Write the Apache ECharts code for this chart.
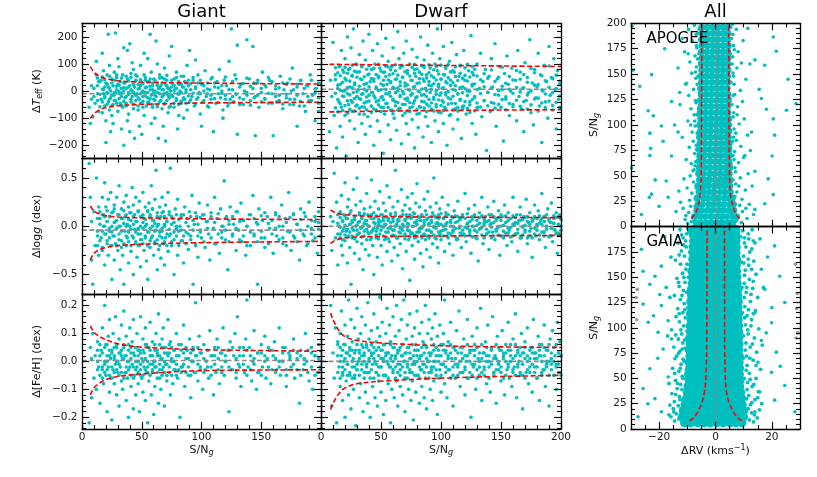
<!DOCTYPE html>
<html><head><meta charset="utf-8">
<script src="https://cdn.jsdelivr.net/npm/echarts@6/dist/echarts.min.js"></script>
<style>html,body{margin:0;padding:0;background:#fff}#c{width:817px;height:477px}</style>
</head><body><div id="c"></div>
<script>
// ---------------- DATA ----------------
const giantTeff = [[6,-60],[8,-30],[8,20],[9,-95],[10,10],[11,-45],[12,60],[13,-10],[14,-75],[14,35],[7,-120],[12,110],[10,-20],
[16,40],[16,-30],[17,-80],[18,5],[18,75],[19,-20],[19,-55],[20,30],[20,-110],[21,-5],[21,60],[22,-40],[22,15],[23,95],[23,-70],[24,0],[24,-25],[25,45],[17,140],[22,210],[20,-190],[24,-150],[18,-10],[25,-90],
[26,20],[26,-50],[27,-15],[27,70],[28,215],[28,-35],[29,5],[29,50],[30,-75],[30,25],[31,-10],[31,90],[32,-45],[32,35],[33,-20],[33,10],[34,60],[34,-60],[35,160],[35,-200],[26,-120],[30,120],[33,-140],[28,-5],[35,0],
[36,30],[36,-25],[37,-55],[37,10],[38,150],[38,45],[39,-5],[39,-85],[40,175],[40,20],[41,-40],[41,65],[42,0],[42,-20],[43,80],[43,-65],[44,15],[44,-175],[45,-35],[45,40],[38,-110],[42,105],[40,-150],[44,-10],
[46,-10],[46,55],[47,25],[47,-70],[48,-30],[48,10],[49,95],[49,-45],[50,-160],[50,30],[51,0],[51,-20],[52,60],[52,-90],[53,-5],[53,40],[54,-55],[54,15],[55,120],[55,-25],[48,-130],[52,140],[50,-5],
[56,35],[56,-40],[57,210],[57,5],[58,-15],[58,70],[59,-60],[59,20],[60,-30],[60,45],[61,-100],[61,0],[62,185],[62,-20],[63,30],[63,-50],[64,10],[64,-175],[65,60],[65,-10],[58,-120],[63,100],[60,-5],
[66,20],[66,-35],[67,-65],[67,50],[68,5],[68,-15],[69,85],[69,-45],[70,-185],[70,25],[71,-5],[71,40],[72,-80],[72,10],[73,-25],[73,130],[74,0],[74,-55],[75,165],[75,30],[68,-130],[72,-15],
[76,-20],[77,45],[77,-60],[78,10],[79,-35],[79,70],[80,-10],[81,25],[81,-90],[82,0],[83,-45],[83,55],[84,15],[85,-100],[85,-25],[86,35],[87,-5],[88,-70],[88,95],[89,20],[90,150],[90,-40],[80,-140],[86,-30],
[91,5],[92,-20],[93,40],[94,-55],[95,10],[95,115],[96,-30],[97,60],[98,-10],[99,-85],[100,-130],[100,25],[101,-40],[102,0],[103,75],[104,-20],[105,30],[106,-60],[107,5],[108,-30],[109,50],[110,-150],[98,-5],[105,-10],
[111,15],[112,-45],[113,35],[114,-10],[115,80],[116,-25],[117,0],[118,-70],[119,40],[120,-15],[121,20],[122,-55],[123,110],[124,-30],[125,230],[126,5],[127,-40],[128,60],[129,-10],[130,-160],[130,170],[118,-100],
[132,-25],[133,25],[135,-50],[136,0],[138,190],[138,-15],[140,45],[141,-35],[143,165],[143,10],[145,-165],[145,-20],[147,30],[148,-60],[150,-5],[151,70],[153,-30],[154,15],[156,-45],[157,40],[159,-10],[160,-165],
[162,20],[163,-40],[165,-15],[166,55],[168,-65],[169,5],[171,-25],[172,30],[174,-50],[175,0],[176,85],[178,-30],[180,-130],[180,15],[182,-55],[183,40],[185,-10],[187,-75],[188,20],[190,-35],[191,60],[193,-15],[195,-110],[196,10],[198,-45],[199,25],[198,-75]];
// dense core, as columns [S/N, [values...]]
const giantTeffCore = [[13,[-35,20,48]],[15,[-12,35,-58]],[17,[8,-40,52]],[19,[-25,42,15]],[21,[-50,25,-8]],[23,[10,-30,55]],[25,[-15,30,-55]],[27,[40,-5,-35]],[29,[-45,18,60]],[31,[22,-28,-2]],[33,[-8,48,-52]],[35,[30,-38,12]],[37,[-20,55,-45]],[39,[15,-12,38]],[41,[-30,5,50]],[43,[25,-48,-5]],[45,[-15,38,60]],[47,[8,-25,-55]],[49,[42,-10,20]],[51,[-38,28,-60]],[53,[12,-18,50]],[55,[-5,35,-42]],[57,[-28,18,45]],[59,[5,-50,30]],[61,[-15,40,-35]],[63,[22,-5,-58]],[65,[-40,12,48]],[67,[30,-22,5]],[69,[-10,45,-48]],[71,[18,-35,58]],[73,[-25,8,-60]],[75,[40,-15,15]],[77,[-45,22,0]],[79,[10,-28,50]],[81,[-12,35,-50]],[83,[25,-5,-38]],[85,[-30,15,55]],[87,[5,-45,30]],[89,[-18,40]],[91,[28,-32]],[93,[-8,50]],[95,[15,-48]],[97,[-25,30]],[99,[40,-10]],[102,[-35,20]],[105,[8,-55]],[108,[-15,45]],[111,[30,-28]],[114,[-42,12]],[117,[20,-8]],[120,[-30,52]],[123,[5,-45]],[126,[-20,35]],[129,[45,-12]],[132,[-50,15]],[135,[28,-30]],[138,[-5,48]],[141,[18,-52]],[144,[-25,30]],[147,[40,-15]],[150,[-40,10]],[153,[22,-28]],[156,[-8,50]],[159,[35,-45]],[162,[-20,8]],[165,[12,-35]],[168,[-48,30]],[171,[25,-12]],[174,[-30,45]],[177,[5,-50]],[180,[-15,25]],[183,[38,-38]],[186,[-55,10]],[189,[20,-20]],[192,[-35,40]],[195,[8,-8]],[198,[-25,30]]];

const giantLogg = [[6,.65],[7,.3],[8,-.35],[8,.05],[9,-.6],[10,.15],[11,-.2],[12,.5],[13,-.05],[14,.2],[14,-.3],[15,.08],
[16,-.12],[17,.3],[17,-.25],[18,0],[18,.12],[19,-.4],[19,.45],[20,-.08],[20,.2],[21,-.15],[21,.05],[22,-.3],[22,.28],[23,.1],[23,-.05],[24,-.2],[24,.35],[25,0],[25,-.55],
[26,.15],[26,-.1],[27,.22],[27,-.35],[28,.05],[28,-.18],[29,.3],[29,-.02],[30,-.25],[30,.12],[31,.42],[31,-.08],[32,0],[32,-.45],[33,.18],[33,-.15],[34,.08],[34,-.3],[35,.25],[35,-.6],
[36,-.05],[36,.1],[37,-.2],[37,.32],[38,.02],[38,-.12],[39,.2],[39,-.38],[40,0],[40,.14],[41,-.26],[41,.06],[42,.4],[42,-.1],[43,-.5],[43,.22],[44,-.03],[44,.12],[45,-.18],[45,.3],
[46,.05],[46,-.32],[47,.16],[47,-.08],[48,.26],[48,-.2],[49,0],[49,-.42],[50,.1],[50,-.14],[51,.35],[51,-.02],[52,-.25],[52,.08],[53,.2],[53,-.1],[54,-.36],[54,.02],[55,.15],[55,-.55],
[56,-.06],[56,.24],[57,.1],[57,-.22],[58,.42],[58,-.12],[59,0],[59,.18],[60,-.3],[60,.06],[61,.28],[61,-.16],[62,-.04],[62,.58],[63,.14],[63,-.45],[64,.02],[64,-.24],[65,.2],[65,-.1],
[66,-.33],[66,.1],[67,.3],[67,-.05],[68,-.18],[68,.15],[69,0],[69,-.4],[70,.22],[70,-.12],[71,.05],[72,-.26],[72,.35],[73,.12],[74,-.08],[74,.6],[75,-.2],[76,.08],[77,-.5],[78,.18],[79,-.02],[80,.28],[80,-.3],
[82,0],[83,.12],[84,-.15],[85,-.38],[86,.2],[87,-.06],[88,.08],[89,-.24],[90,.15],[91,-.1],[92,.32],[93,-.6],[94,.02],[95,-.18],[96,.1],[97,-.32],[98,.24],[99,-.04],[100,-.12],[101,.12],
[103,-.22],[104,.05],[105,.22],[106,-.08],[107,-.35],[108,.14],[110,-.02],[111,.3],[112,-.18],[113,.08],[115,-.28],[116,.18],[117,-.06],[118,0],[119,.47],[120,-.14],[121,.1],[122,-.45],[123,.06],[124,.2],
[126,-.1],[127,.02],[129,-.25],[130,.15],[131,-.04],[133,.24],[134,-.16],[135,.06],[137,-.3],[138,0],[140,.12],[141,-.2],[143,.32],[144,-.08],[146,.04],[147,-.6],[148,.18],[150,-.12],[151,.06],[153,-.22],
[155,.1],[157,-.02],[158,.3],[160,-.28],[162,.14],[163,-.1],[165,0],[167,.22],[168,-.18],[170,.08],[172,-.05],[173,.35],[175,-.25],[177,.12],[178,-.12],[180,.02],[182,-.35],[183,.18],[185,-.08],[187,.1],[188,-.2],[190,.25],[192,-.02],[193,-.15],[195,.05],[197,-.28],[198,.15],[199,-.1]];
const giantLoggCore = [[13,[-.1,.08,-.2]],[15,[.02,-.15,.15]],[17,[-.05,.12,-.22]],[19,[.1,-.08,0]],[21,[-.18,.05,.16]],[23,[-.02,-.12,.1]],[25,[.14,-.06,-.2]],[27,[-.1,.04,.18]],[29,[.06,-.2,-.02]],[31,[-.14,.12,0]],[33,[.08,-.05,-.22]],[35,[-.18,.16,.03]],[37,[0,-.1,.12]],[39,[-.06,.07,-.16]],[41,[.14,-.2,-.03]],[43,[-.12,.02,.1]],[45,[.05,-.16,-.06]],[47,[-.02,.15,-.2]],[49,[.1,-.08,-.14]],[51,[-.18,.04,.12]],[53,[0,-.12,.07]],[55,[-.06,.16,-.2]],[57,[.12,-.02,-.15]],[59,[-.1,.06,.18]],[61,[.03,-.18,-.05]],[63,[-.14,.1,0]],[65,[.08,-.06,-.2]],[67,[-.02,.14,-.12]],[69,[.1,-.16,.02]],[71,[-.08,.05,-.2]],[73,[.15,-.1,-.03]],[75,[-.16,.02,.1]],[77,[.04,-.06,-.14]],[79,[-.1,.12,0]],[81,[.07,-.2,-.05]],[83,[-.04,.1,-.15]],[85,[.12,-.1]],[87,[-.18,.04]],[89,[0,-.08]],[91,[.1,-.14]],[93,[-.04,.06]],[95,[-.2,.14]],[97,[.02,-.1]],[99,[-.06,.09]],[102,[.12,-.16]],[105,[-.02,.05]],[108,[-.12,.1]],[111,[.04,-.18]],[114,[-.08,.13]],[117,[0,-.12]],[120,[.08,-.04]],[123,[-.16,.02]],[126,[.1,-.08]],[129,[-.02,.15]],[132,[-.14,.05]],[135,[.06,-.1]],[138,[-.2,0]],[141,[.12,-.06]],[144,[-.1,.08]],[147,[.02,-.16]],[150,[-.05,.11]],[153,[.14,-.12]],[156,[-.18,.03]],[159,[.06,-.08]],[162,[-.02,.12]],[165,[.1,-.14]],[168,[-.12,0]],[171,[.04,-.2]],[174,[-.06,.09]],[177,[.13,-.1]],[180,[-.16,.02]],[183,[.07,-.04]],[186,[-.1,.14]],[189,[0,-.18]],[192,[-.08,.06]],[195,[.1,-.12]],[198,[-.03,.04]]];

const giantFeh = [[6,-.22],[7,.05],[8,-.13],[8,.01],[9,.1],[10,-.06],[11,.02],[12,-.1],[13,.07],[14,-.02],[15,-.15],
[16,.04],[17,-.03],[17,.12],[18,-.08],[19,0],[19,.2],[20,-.05],[20,.06],[21,-.18],[21,.02],[22,.09],[22,-.02],[23,-.11],[23,.15],[24,.01],[24,-.06],[25,.04],[25,-.21],
[26,.1],[26,-.03],[27,-.08],[27,.02],[28,.16],[28,-.01],[29,-.12],[29,.05],[30,0],[30,-.04],[31,.08],[31,-.16],[32,-.02],[32,.03],[33,.13],[33,-.07],[34,.01],[34,-.1],[35,.06],[35,.18],
[36,-.04],[36,.02],[37,-.14],[37,.09],[38,0],[38,-.06],[39,.04],[39,-.2],[40,.12],[40,-.02],[41,-.09],[41,.03],[42,.07],[42,-.01],[43,-.17],[43,.15],[44,.02],[44,-.05],[45,.05],[45,-.12],
[46,-.02],[46,.1],[47,0],[47,-.08],[48,.04],[48,-.18],[49,.16],[49,-.03],[50,.01],[50,-.06],[51,.08],[51,-.11],[52,-.02],[52,.03],[53,.12],[53,-.14],[54,-.04],[54,.06],[55,0],[55,-.22],
[56,.05],[56,-.07],[57,-.01],[57,.14],[58,-.12],[58,.02],[59,.07],[59,-.04],[60,-.19],[60,0],[61,.04],[61,-.09],[62,.1],[62,-.02],[63,-.06],[63,.02],[64,.17],[64,-.15],[65,-.03],[65,.06],
[66,.01],[66,-.1],[67,.08],[67,-.05],[68,-.02],[68,.12],[69,-.16],[69,.03],[70,.05],[70,-.01],[71,-.07],[72,.02],[72,.15],[73,-.04],[74,.07],[74,-.12],[75,0],[76,-.08],[77,.04],[78,-.03],[79,.1],[80,-.06],
[81,.02],[82,-.2],[83,.06],[84,-.02],[85,.13],[86,-.09],[87,.01],[88,.04],[89,-.05],[90,.08],[91,-.13],[92,0],[93,.05],[94,-.04],[95,.21],[96,.02],[97,-.07],[98,.09],[99,-.02],[100,.03],
[101,-.1],[102,.06],[103,-.03],[104,0],[105,.04],[106,-.06],[107,.11],[108,-.02],[109,.02],[110,-.12],[111,.05],[112,-.04],[113,.08],[114,.01],[115,-.08],[116,.03],[117,-.02],[118,.12],[119,-.05],[120,0],
[122,.04],[123,-.18],[124,.07],[125,-.03],[127,.02],[128,.1],[129,-.06],[130,.16],[131,-.01],[132,.05],[133,-.09],[135,.02],[136,-.04],[137,.08],[138,.22],[139,-.02],[140,.05],[142,-.07],[143,0],[144,.11],
[146,-.1],[147,.03],[148,-.04],[150,.06],[151,-.02],[153,.09],[154,-.06],[155,.01],[157,.04],[158,-.08],[160,.02],[161,.07],[163,-.03],[165,.12],[166,-.05],[168,0],[170,.05],[171,-.09],[173,.03],[175,-.02],
[177,.08],[178,-.06],[180,.01],[182,-.15],[183,.04],[185,-.03],[187,.1],[188,0],[190,-.07],[192,.05],[193,-.1],[195,.02],[197,-.04],[198,.06],[199,-.02]];
const giantFehCore = [[13,[-.03,.04,0]],[15,[.02,-.05,.06]],[17,[-.02,.03,-.06]],[19,[.05,-.01,-.04]],[21,[0,.06,-.03]],[23,[-.05,.02,.04]],[25,[.03,-.02,-.06]],[27,[-.04,.05,.01]],[29,[.06,-.03,0]],[31,[-.01,.03,-.05]],[33,[.04,-.04,.02]],[35,[-.06,.01,.05]],[37,[.02,-.02,-.04]],[39,[-.03,.06,0]],[41,[.05,-.05,.01]],[43,[-.02,.03,-.06]],[45,[0,.05,-.03]],[47,[-.04,.02,.04]],[49,[.03,-.01,-.05]],[51,[-.05,.04,0]],[53,[.01,-.03,.06]],[55,[-.02,.05,-.04]],[57,[.04,-.05,.02]],[59,[-.01,.02,-.03]],[61,[.06,-.02,0]],[63,[-.04,.04,.03]],[65,[.02,-.06,-.01]],[67,[-.03,.01,.05]],[69,[.05,-.04,0]],[71,[-.01,.03,-.05]],[73,[.03,-.02,.06]],[75,[-.05,.05,.01]],[77,[0,-.03,.04]],[79,[.02,-.05,-.01]],[81,[-.03,.06,.02]],[83,[.04,-.02,-.04]],[85,[-.01,.03]],[87,[.05,-.04]],[89,[-.02,.01]],[91,[.03,-.05]],[93,[0,.04]],[95,[-.04,.02]],[97,[.05,-.01]],[99,[-.03,.03]],[102,[.01,-.04]],[105,[.04,-.02]],[108,[-.05,.02]],[111,[.02,-.01]],[114,[-.03,.05]],[117,[.03,-.04]],[120,[0,.02]],[123,[-.02,.04]],[126,[.05,-.03]],[129,[-.04,.01]],[132,[.02,-.02]],[135,[-.01,.05]],[138,[.04,-.05]],[141,[-.03,.02]],[144,[.01,-.01]],[147,[.03,-.04]],[150,[-.05,.03]],[153,[.02,0]],[156,[-.02,.05]],[159,[.04,-.03]],[162,[-.04,.01]],[165,[0,-.02]],[168,[.05,.03]],[171,[-.03,-.05]],[174,[.02,.01]],[177,[-.01,.04]],[180,[.03,-.03]],[183,[-.05,.02]],[186,[.01,-.01]],[189,[.04,-.04]],[192,[-.02,.03]],[195,[.02,-.05]],[198,[-.04,.01]]];

const dwarfTeff = [[7,-150],[8,40],[9,-20],[10,180],[11,-90],[12,60],[13,-210],[14,10],
[15,-40],[15,90],[16,-130],[16,25],[17,150],[17,-60],[18,0],[18,-170],[19,70],[19,-20],[20,120],[20,-90],[21,40],[21,-240],[22,-10],[22,200],[23,-50],[23,80],[24,-110],[24,15],[25,160],[25,-35],
[26,55],[26,-75],[27,-5],[27,230],[28,-140],[28,30],[29,100],[29,-55],[30,-20],[30,70],[31,-190],[31,5],[32,135],[32,-85],[33,45],[33,-30],[34,-120],[34,90],[35,-10],[35,185],
[36,-60],[36,25],[37,-160],[37,115],[38,0],[38,-40],[39,60],[39,-95],[40,210],[40,-15],[41,35],[41,-130],[42,80],[42,-55],[43,-5],[43,150],[44,-200],[44,45],[45,-25],[45,100],
[46,-70],[46,15],[47,175],[47,-110],[48,55],[48,-35],[49,-150],[49,85],[50,5],[50,-60],[51,130],[51,-20],[52,40],[52,-230],[53,-85],[53,70],[54,-10],[54,195],[55,-45],[55,25],
[56,-125],[56,110],[57,60],[57,-5],[58,-180],[58,35],[59,90],[59,-70],[60,-30],[60,160],[61,10],[61,-100],[62,75],[62,-40],[63,-145],[63,45],[64,0],[64,220],[65,-65],[65,120],
[66,20],[66,-20],[67,-195],[67,95],[68,50],[68,-90],[69,-10],[69,140],[70,-50],[70,30],[71,185],[71,-120],[72,65],[72,-35],[73,-160],[73,5],[74,100],[74,-75],[75,40],[75,-15],
[76,-105],[76,155],[77,15],[77,-45],[78,80],[78,-210],[79,-25],[79,55],[80,125],[80,-85],[81,0],[81,-135],[82,70],[82,30],[83,-60],[83,200],[84,-15],[84,95],[85,-170],[85,45],
[86,-40],[86,115],[87,10],[87,-95],[88,60],[88,-20],[89,170],[89,-130],[90,35],[90,-55],[91,-5],[91,85],[92,-190],[92,20],[93,140],[93,-70],[94,50],[94,-30],[95,-110],[95,100],
[96,0],[96,-50],[97,75],[97,230],[98,-150],[98,25],[99,-15],[99,120],[100,-80],[100,45],[101,10],[101,-35],[102,165],[102,-120],[103,60],[103,-60],[104,-5],[104,90],[105,-200],[105,30],
[106,-25],[107,110],[107,-90],[108,40],[109,-45],[109,180],[110,5],[110,-140],[111,70],[112,-65],[112,20],[113,135],[114,-10],[114,-105],[115,55],[116,-30],[116,95],[117,-175],[118,15],[119,-55],[119,150],[120,40],
[121,-85],[122,0],[123,75],[124,-40],[125,205],[126,-120],[126,25],[127,60],[128,-20],[129,-160],[130,100],[131,-60],[132,10],[133,140],[134,-95],[135,35],[136,-35],[137,80],[138,-220],[139,-5],[140,55],
[141,-75],[142,120],[143,15],[144,-45],[145,175],[146,-130],[147,45],[148,-15],[149,90],[150,-60],[151,5],[152,-185],[153,65],[154,-30],[155,130],[156,25],[157,-90],[158,0],[159,85],[160,-50],
[162,40],[163,-110],[164,150],[165,-20],[166,70],[167,-65],[168,10],[169,-150],[170,105],[171,-35],[172,50],[173,-5],[174,190],[175,-80],[176,30],[177,-125],[178,80],[179,-25],[180,15],[181,140],
[182,-55],[183,60],[184,-190],[185,0],[186,95],[187,-40],[188,35],[189,-100],[190,165],[191,-15],[192,50],[193,-70],[194,120],[195,5],[196,-140],[197,75],[198,-30],[199,25],[199,-60]];
const dwarfTeffCore = [[12,[-62,-8,43,86]],[14,[-31,22,68,-77]],[16,[-47,3,57,93]],[18,[-72,-18,33,78]],[20,[-53,1,47,88]],[22,[-36,13,66,-82]],[24,[-67,-14,37,83]],[26,[-41,12,58,96]],[28,[-74,-27,24,73]],[30,[-52,-2,51,98]],
[32,[-28,18,71,-63]],[34,[-58,-12,42,91]],[36,[-44,7,53,-86]],[38,[-69,-22,28,81]],[40,[-37,16,63,94]],[42,[-56,-4,46,-79]],[44,[-66,-17,36,84]],[46,[-39,9,61,-73]],[48,[-51,2,49,99]],[50,[-76,-24,26,74]],
[52,[-32,21,69,-61]],[54,[-46,6,54,92]],[56,[-61,-11,41,89]],[58,[-71,-19,31,79]],[60,[-34,14,64,-84]],[62,[-54,-6,44,97]],[64,[-42,11,59,-71]],[66,[-64,-16,34,86]],[68,[-49,-1,52,93]],[70,[-29,19,72,-81]],
[72,[-73,-26,23,76]],[74,[-43,4,56,-62]],[76,[-59,-9,39,88]],[78,[-36,17,66,99]],[80,[-68,-21,29,82]],[82,[-57,-3,46,-83]],[84,[-38,8,62,94]],[86,[-63,-13,36,87]],[88,[-48,1,48,-76]],[90,[-31,22,68,97]],
[92,[-44,6,57,-66]],[94,[-74,-23,27,79]],[96,[-58,-12,41,91]],[98,[-33,16,63,-78]],[100,[-53,-7,44,96]],[102,[-41,12,61,-72]],[104,[-66,-14,34,84]],[106,[-48,-2,49,98]],[108,[-29,21,71,-87]],[110,[-69,-19,31,76]],
[112,[-46,3,54,89]],[114,[-61,-11,39,-74]],[116,[-34,13,66,93]],[118,[-56,-6,47,-64]],[120,[-39,9,58,86]],[122,[-64,-16,37,99]],[124,[-51,-1,52,-79]],[126,[-32,19,69,91]],[128,[-73,-24,26,81]],[130,[-44,6,56,-61]],
[133,[-59,-9,42]],[136,[-36,16,64]],[139,[-54,-4,47]],[142,[-42,11,78]],[145,[-63,-13,36]],[148,[-49,2,51]],[151,[-31,18,88]],[154,[-69,-21,29]],[157,[-46,7,54]],[160,[-58,-8,41]],
[163,[-34,13,76]],[166,[-56,-3,44]],[169,[-39,12,61]],[172,[-66,-14,33]],[175,[-51,1,84]],[178,[-29,22,68]],[181,[-74,-26,24]],[184,[-44,4,57]],[187,[-61,-11,38]],[190,[-37,14,93]],[193,[-53,-6,46]],[196,[-41,9,59]],[199,[-64,-17,36]]];

const dwarfLogg = [[8,.1],[9,-.25],[10,.05],[11,.55],[12,-.12],[13,.25],[14,-.4],[15,0],
[16,.15],[16,-.08],[17,-.2],[17,.32],[18,.05],[18,-.3],[19,.12],[19,-.02],[20,.45],[20,-.15],[21,.08],[21,-.05],[22,.2],[22,-.38],[23,-.1],[23,.28],[24,.02],[24,-.22],[25,.16],[25,-.6],
[26,.06],[26,-.12],[27,.38],[27,-.04],[28,.1],[28,-.28],[29,0],[29,.22],[30,-.16],[30,.5],[31,.04],[31,-.08],[32,-.34],[32,.14],[33,.26],[33,-.02],[34,-.18],[34,.08],[35,0],[35,-.45],
[36,.18],[36,-.1],[37,.06],[37,-.24],[38,.34],[38,.02],[39,-.06],[39,.12],[40,-.3],[40,0],[41,.2],[41,-.14],[42,.08],[42,.48],[43,-.04],[43,-.2],[44,.14],[44,-.5],[45,.03],[45,.26],
[46,-.12],[46,.1],[47,-.02],[47,-.32],[48,.18],[48,.04],[49,-.08],[49,.36],[50,-.2],[50,0],[51,.12],[51,-.4],[52,.06],[52,.24],[53,-.14],[53,.02],[54,.16],[54,-.06],[55,-.26],[55,.42],
[56,.08],[56,-.02],[57,.3],[57,-.16],[58,0],[58,.12],[59,-.1],[59,-.36],[60,.2],[60,.05],[61,-.04],[61,-.22],[62,.14],[62,.58],[63,-.12],[63,.02],[64,.26],[64,-.3],[65,.06],[65,-.06],
[66,.1],[66,-.18],[67,-.02],[67,.38],[68,.16],[68,-.44],[69,0],[69,-.1],[70,.22],[70,.06],[71,-.26],[71,.12],[72,-.04],[72,.3],[73,-.14],[73,.02],[74,.18],[74,-.56],[75,-.08],[75,.08],
[76,.34],[76,-.2],[77,0],[77,.14],[78,-.12],[78,-.34],[79,.24],[79,.04],[80,-.06],[80,.44],[81,.1],[81,-.16],[82,-.02],[82,.2],[83,-.28],[83,.06],[84,.12],[84,-.1],[85,0],[85,-.42],
[86,.28],[86,.04],[87,-.14],[87,.16],[88,-.04],[88,-.24],[89,.08],[89,.36],[90,-.1],[90,.02],[91,.2],[91,-.32],[92,.06],[92,-.06],[93,.14],[93,-.18],[94,0],[94,.5],[95,-.12],[95,.1],
[96,.24],[96,-.02],[97,-.22],[97,.04],[98,.12],[98,-.38],[99,-.08],[99,.18],[100,.02],[100,-.14],[101,.3],[102,-.04],[102,.08],[103,-.26],[104,.14],[105,-.1],[105,.04],[106,.22],[107,-.18],[108,0],
[109,.1],[110,-.06],[110,-.3],[111,.16],[112,.04],[113,-.14],[114,.26],[115,-.02],[116,.08],[117,-.22],[118,.12],[119,-.08],[120,.34],[121,-.16],[122,.02],[123,.18],[124,-.04],[125,-.28],[126,.1],[127,0],
[128,.22],[129,-.12],[130,.06],[131,-.36],[132,.14],[133,-.02],[134,.3],[135,-.18],[136,.04],[137,.1],[138,-.08],[139,.2],[140,-.24],[141,.02],[142,.12],[143,-.06],[144,.26],[145,-.14],[146,.06],[147,-.02],
[148,.16],[149,-.3],[150,0],[151,.1],[152,-.1],[153,.22],[154,.04],[155,-.2],[156,.14],[157,-.04],[158,.08],[159,-.16],[160,.3],[161,.02],[162,-.08],[163,.12],[164,-.26],[165,.06],[166,.2],[167,-.12],
[168,0],[169,.1],[170,-.06],[171,.28],[172,-.18],[173,.04],[174,.14],[175,-.02],[176,-.32],[177,.08],[178,.22],[179,-.1],[180,.02],[181,.16],[182,-.14],[183,.06],[184,.34],[185,-.06],[186,.1],[187,-.22],
[188,0],[189,.18],[190,-.1],[191,.04],[192,.24],[193,-.16],[194,.08],[195,-.04],[196,.14],[197,-.28],[198,.02],[199,.12],[199,-.08]];
const dwarfLoggCore = [[14,[-.08,.03,.12]],[16,[-.12,-.01,.09]],[18,[-.05,.06,-.14]],[20,[.11,-.09,.01]],[22,[-.03,.08,-.11]],[24,[.13,-.06,.02]],[26,[-.1,.04,-.02]],[28,[.07,-.13,.1]],[30,[-.04,.01,-.09]],[32,[.12,-.07,.05]],
[34,[-.11,.09,-.01]],[36,[.03,-.05,.13]],[38,[-.14,.06,-.03]],[40,[.1,-.08,0]],[42,[-.06,.12,-.12]],[44,[.04,-.02,.08]],[46,[-.09,.11,-.05]],[48,[.01,-.13,.07]],[50,[-.04,.05,.12]],[52,[.09,-.1,-.01]],
[54,[-.12,.02,.1]],[56,[.06,-.06,-.13]],[58,[-.02,.13,.04]],[60,[.08,-.09,-.04]],[62,[-.1,0,.11]],[64,[.05,-.12,.07]],[66,[-.07,.1,-.02]],[68,[.12,-.04,.02]],[70,[-.13,.07,-.08]],[72,[.03,-.01,.09]],
[74,[-.05,.12,-.11]],[76,[.1,-.07,0]],[78,[-.09,.04,.13]],[80,[.02,-.11,.06]],[82,[-.03,.09,-.06]],[84,[.11,-.02,-.12]],[86,[-.08,.06,.01]],[88,[.07,-.1,.12]],[90,[-.12,.03,-.04]],[92,[.04,-.06,.1]],
[94,[-.01,.11,-.09]],[96,[.09,-.13,.03]],[98,[-.06,.02,.08]],[100,[.13,-.05,-.1]],[102,[-.1,.08,0]],[104,[.02,-.03,.11]],[106,[-.07,.12,-.12]],[108,[.06,-.08,.04]],[110,[-.04,0,.09]],[112,[.11,-.11,-.02]],
[114,[-.13,.05,.1]],[116,[0,-.07,.07]],[118,[-.08,.1,-.04]],[120,[.08,-.01,-.1]],[122,[-.02,.13,.03]],[124,[.05,-.09,-.06]],[126,[-.11,.07,0]],[128,[.1,-.04,.12]],[130,[-.06,.01,-.13]],[132,[.03,.09,-.03]],
[134,[-.09,-.01,.11]],[136,[.07,-.12,.02]],[138,[-.03,.05,-.08]],[140,[.12,-.06,.06]],[142,[-.12,.03,-.01]],[144,[.04,.1,-.1]],[146,[-.05,-.03,.08]],[148,[.09,-.09,0]],[150,[-.1,.06,.12]],[152,[.01,-.05,-.12]],
[154,[-.07,.11,.04]],[156,[.06,-.02,-.07]],[158,[-.01,.08,-.11]],[160,[.11,-.1,.02]],[162,[-.08,.04,.09]],[164,[.03,-.07,-.03]],[166,[-.12,.12,.06]],[168,[.07,-.01,-.09]],[170,[-.04,.09,.01]],[172,[.1,-.12,.05]],
[174,[-.1,.02,-.05]],[176,[.05,.07,-.12]],[178,[-.02,-.08,.1]],[180,[.08,0,-.04]],[182,[-.09,.11,.03]],[184,[.02,-.06,.08]],[186,[-.06,.05,-.1]],[188,[.12,-.03,0]],[190,[-.11,.08,.06]],[192,[.04,-.1,-.02]],
[194,[-.03,.03,.11]],[196,[.09,-.07,-.08]],[198,[-.07,.1,.02]],[200,[0,-.04,.07]]];

const dwarfFeh = [[8,.2],[9,-.16],[10,.03],[11,-.06],[12,.12],[13,-.22],[14,.07],[15,-.02],
[16,.1],[16,-.09],[17,.02],[17,.18],[18,-.04],[18,-.14],[19,.06],[19,0],[20,-.2],[20,.13],[21,.03],[21,-.07],[22,.09],[22,-.01],[23,-.12],[23,.22],[24,.04],[24,-.05],[25,.15],[25,-.17],
[26,-.02],[26,.07],[27,-.1],[27,.01],[28,.12],[28,-.06],[29,.04],[29,-.23],[30,.19],[30,-.03],[31,0],[31,.08],[32,-.13],[32,.03],[33,.1],[33,-.08],[34,-.01],[34,.16],[35,-.18],[35,.05],
[36,.02],[36,-.04],[37,.13],[37,-.11],[38,.06],[38,-.02],[39,.21],[39,-.15],[40,.01],[40,.08],[41,-.06],[41,-.2],[42,.11],[42,.03],[43,-.09],[43,-.01],[44,.17],[44,.05],[45,-.13],[45,0],
[46,.07],[46,-.04],[47,-.16],[47,.12],[48,.02],[48,-.07],[49,.09],[49,.23],[50,-.02],[50,-.11],[51,.04],[51,.14],[52,-.19],[52,.01],[53,.06],[53,-.05],[54,.1],[54,-.14],[55,0],[55,.19],
[56,-.08],[56,.03],[57,.13],[57,-.02],[58,-.22],[58,.07],[59,.02],[59,-.1],[60,.16],[60,-.04],[61,.05],[61,-.13],[62,.01],[62,.09],[63,-.07],[63,.2],[64,-.01],[64,-.16],[65,.11],[65,.04],
[66,-.03],[66,-.09],[67,.15],[67,.02],[68,-.12],[68,.06],[69,0],[69,.22],[70,-.06],[70,-.18],[71,.08],[71,.03],[72,-.02],[72,.13],[73,-.1],[73,.05],[74,.17],[74,-.04],[75,-.14],[75,.01],
[76,.09],[76,-.07],[77,.02],[77,-.21],[78,.12],[78,-.01],[79,.06],[79,-.11],[80,.18],[80,0],[81,-.05],[81,.04],[82,-.15],[82,.1],[83,.02],[83,-.03],[84,.14],[84,-.09],[85,-.01],[85,.07],
[86,-.13],[86,.03],[87,.2],[87,-.06],[88,.05],[88,-.17],[89,0],[89,.1],[90,-.04],[90,.15],[91,.02],[91,-.1],[92,.08],[92,-.02],[93,-.14],[93,.12],[94,.04],[94,-.07],[95,.17],[95,0],
[96,-.05],[97,.09],[97,-.19],[98,.02],[99,-.03],[99,.13],[100,.06],[100,-.11],[101,-.01],[102,.1],[103,-.08],[103,.22],[104,.03],[105,-.13],[106,.07],[107,-.03],[108,.14],[109,.01],[110,-.16],[111,.05],
[112,-.06],[113,.11],[114,-.01],[115,.18],[116,-.09],[117,.03],[118,-.04],[119,.08],[120,-.12],[121,0],[122,.15],[123,-.06],[124,.04],[125,-.2],[126,.09],[127,-.02],[128,.06],[129,-.1],[130,.12],[131,.01],
[132,-.05],[133,.19],[134,-.14],[135,.03],[136,-.02],[137,.07],[138,-.08],[139,.13],[140,0],[141,-.11],[142,.05],[143,.16],[144,-.04],[145,.02],[146,-.15],[147,.09],[148,-.01],[149,.04],[150,-.07],[151,.11],
[152,.01],[153,-.12],[154,.06],[155,-.03],[156,.14],[157,-.06],[158,.02],[159,-.09],[160,.08],[161,-.02],[162,.17],[163,-.13],[164,.04],[165,0],[166,-.05],[167,.1],[168,-.17],[169,.03],[170,.07],[171,-.04],
[172,.12],[173,-.08],[174,.01],[175,.05],[176,-.11],[177,.15],[178,-.02],[179,.03],[180,-.06],[181,.09],[182,-.14],[183,.02],[184,.06],[185,-.03],[186,.13],[187,-.09],[188,0],[189,.04],[190,-.16],[191,.08],
[192,-.01],[193,.11],[194,-.05],[195,.02],[196,-.1],[197,.14],[198,.03],[199,-.04],[199,.07]];
const dwarfFehCore = [[14,[-.04,.02,.06]],[16,[.05,-.06,0]],[18,[-.02,.04,-.05]],[20,[.06,-.03,.01]],[22,[-.05,.03,-.01]],[24,[.02,-.04,.05]],[26,[-.06,0,.04]],[28,[.03,-.02,-.05]],[30,[-.01,.06,-.03]],[32,[.04,-.05,.01]],
[34,[-.03,.02,.06]],[36,[0,-.06,.03]],[38,[.05,-.01,-.04]],[40,[-.04,.04,0]],[42,[.02,-.03,.06]],[44,[-.06,.01,.03]],[46,[.04,-.04,-.01]],[48,[-.02,.05,-.05]],[50,[.01,-.02,.04]],[52,[-.05,.06,0]],
[54,[.03,-.05,.02]],[56,[-.01,.03,-.06]],[58,[.06,-.02,.01]],[60,[-.03,0,.05]],[62,[.02,-.06,-.02]],[64,[-.04,.04,.03]],[66,[.05,-.01,-.05]],[68,[-.02,.02,.06]],[70,[0,-.04,.03]],[72,[-.06,.05,-.01]],
[74,[.03,-.03,.01]],[76,[-.01,.06,-.04]],[78,[.04,-.05,0]],[80,[-.05,.02,.04]],[82,[.01,-.02,-.06]],[84,[-.03,.05,.02]],[86,[.06,-.04,-.01]],[88,[-.02,.01,.05]],[90,[.03,-.06,0]],[92,[-.04,.03,-.03]],
[94,[0,.06,-.02]],[96,[.05,-.03,.02]],[98,[-.06,0,.04]],[100,[.02,-.05,-.01]],[102,[-.01,.04,.06]],[104,[.04,-.02,-.04]],[106,[-.03,.02,.01]],[108,[.06,-.06,.03]],[110,[-.05,.05,-.02]],[112,[.01,-.01,.04]],
[114,[-.02,.03,-.05]],[116,[.05,-.04,0]],[118,[-.04,.01,.05]],[120,[.02,-.03,-.02]],[122,[-.06,.06,.02]],[124,[.03,0,-.04]],[126,[-.01,-.05,.04]],[128,[.04,.02,-.01]],[130,[-.03,.05,-.06]],[132,[0,-.02,.03]],
[134,[.06,-.04,.01]],[136,[-.05,.03,-.03]],[138,[.02,0,.05]],[140,[-.02,-.06,.02]],[142,[.05,.04,-.01]],[144,[-.04,.01,-.05]],[146,[.01,-.03,.06]],[148,[-.03,.05,0]],[150,[.04,-.02,-.04]],[152,[-.06,.02,.03]],
[154,[.03,-.05,0]],[156,[-.01,.04,-.02]],[158,[.06,0,.04]],[160,[-.04,-.03,.01]],[162,[.02,.06,-.05]],[164,[-.02,-.01,.03]],[166,[.05,-.04,.02]],[168,[-.05,.03,-.01]],[170,[.01,-.06,.05]],[172,[-.03,.02,0]],
[174,[.04,-.02,-.04]],[176,[-.01,.05,.03]],[178,[.03,-.04,.01]],[180,[-.06,.01,-.02]],[182,[.02,.04,.06]],[184,[-.04,-.05,0]],[186,[.05,.02,-.03]],[188,[-.02,-.01,.04]],[190,[0,.06,-.05]],[192,[.03,-.03,.01]],
[194,[-.05,0,.05]],[196,[.06,-.02,-.01]],[198,[-.01,.03,-.04]],[200,[.02,-.05,.02]]];

// red error envelopes (x = S/N, y = value)
const giantTeffUp = [[7,91],[10,70],[15,54],[20,46],[30,38],[45,34],[60,32],[100,29.5],[150,27.5],[200,26]];
const giantTeffLo = [[7,-102],[10,-84],[15,-69],[20,-61],[30,-54],[45,-50],[60,-48],[100,-44],[150,-42],[200,-41]];
const dwarfTeffUp = [[7,99],[50,97],[100,95],[150,93],[200,91]];
const dwarfTeffLo = [[7,-77],[50,-74],[100,-72],[150,-70],[200,-69]];
const giantLoggUp = [[7,.21],[10,.16],[15,.125],[20,.11],[30,.097],[50,.087],[100,.077],[150,.073],[200,.07]];
const giantLoggLo = [[7,-.35],[10,-.28],[15,-.24],[20,-.22],[30,-.2],[50,-.185],[100,-.17],[150,-.162],[200,-.156]];
const dwarfLoggUp = [[8,.17],[12,.14],[20,.12],[40,.105],[100,.095],[200,.09]];
const dwarfLoggLo = [[8,-.18],[12,-.145],[20,-.12],[40,-.108],[100,-.1],[200,-.094]];
const giantFehUp = [[7,.127],[10,.105],[15,.088],[20,.078],[30,.063],[50,.051],[100,.042],[150,.039],[200,.036]];
const giantFehLo = [[7,-.12],[10,-.095],[15,-.077],[20,-.065],[30,-.054],[50,-.045],[100,-.033],[150,-.031],[200,-.03]];
const dwarfFehUp = [[8,.173],[10,.15],[15,.11],[20,.089],[30,.075],[50,.066],[100,.056],[150,.052],[200,.05]];
const dwarfFehLo = [[8,-.172],[10,-.15],[15,-.115],[20,-.095],[30,-.08],[50,-.071],[100,-.06],[150,-.054],[200,-.05]];
// medians (gray dashed)
const medians = {giantTeff:-10, dwarfTeff:7, giantLogg:-.04, dwarfLogg:0, giantFeh:.003, dwarfFeh:0, apogee:.2, gaia:.1};

// RV panels (x = dRV, y = S/N); cores as rows [S/N, [dRV...]]
const apogeeCoreRows = [[4,[-6.9,-5.2,-3.1,-1.3,0.7,2.4,4.5,6.2]],[10,[-7.5,-5.4,-3.7,-1.6,0.3,2.2,3.9,6,7.5]],[16,[-6.7,-4.9,-2.9,-1.1,1,2.7,4.8,6.5]],
[22,[-6.2,-4.6,-2.4,-0.7,1.4,3.1,5.1,6.4]],[28,[-6.6,-4.3,-2.8,-0.8,1,3.1,4.8,6]],[34,[-5.9,-4.1,-2.1,-0.4,1.7,3.4,5.3]],[40,[-6.3,-4.2,-2.5,-0.5,1.3,3.3,5.1]],
[46,[-5.7,-3.9,-2.1,0,1.8,3.6,5.2]],[52,[-6,-4.3,-2.2,-0.4,1.6,3.4,4.9]],[58,[-5.8,-3.7,-1.9,0.1,1.9,3.8,5.1]],[64,[-5.9,-4.1,-2.1,-0.3,1.6,3.6,4.8]],
[70,[-5.6,-3.8,-1.8,0.2,2.1,3.9,5]],[76,[-5.8,-3.9,-2.1,-0.1,1.8,3.6,4.8]],[82,[-5.5,-3.6,-1.6,0.3,2.2,4,4.9]],[88,[-5.7,-3.8,-1.9,0,1.8,3.7,4.6]],
[94,[-5.4,-3.5,-1.7,0.4,2.2,4.1,4.8]],[100,[-5.6,-3.7,-1.8,0.1,2,3.8,4.6]],[106,[-5.3,-3.4,-1.5,0.5,2.3,4.2,4.7]],[112,[-5.5,-3.6,-1.7,0.2,2.1,3.9,4.5]],
[118,[-5.2,-3.3,-1.4,0.6,2.4,4.3]],[124,[-5.4,-3.5,-1.6,0.3,2.2,4.1,4.6]],[130,[-5.1,-3.2,-1.3,0.7,2.5,4.4]],[136,[-5.3,-3.4,-1.5,0.4,2.3,4.2]],
[142,[-5,-3.1,-1.2,0.8,2.6,4.4]],[148,[-5.2,-3.3,-1.4,0.5,2.4,4.3]],[154,[-4.9,-3,-1.1,0.9,2.7,4.5]],[160,[-5.1,-3.2,-1.3,0.6,2.5,4.4]],
[166,[-4.8,-2.9,-1,1,2.8,4.5]],[172,[-5,-3.1,-1.2,0.7,2.6,4.4]],[178,[-4.8,-2.9,-1,0.9,2.8,4.6]],[184,[-5,-3,-1.1,0.8,2.7,4.4]],
[190,[-4.7,-2.8,-0.9,1,2.9,4.5]],[196,[-4.9,-3,-1.1,0.8,2.6,4.3]]];
const apogeeMid = [[-8.2,9],[-9.5,14],[-10.8,7],[-8.8,20],[-11.5,18],[-9.2,26],[-12.4,24],[-8.4,33],[-10.1,38],[-7.8,44],[-9,50],[-11.2,47],[-7.6,56],[-8.6,62],[-10.4,66],[-7.4,72],[-9.3,78],[-7.9,84],[-11.8,88],[-8.3,93],[-7.2,99],[-9.8,104],[-7.6,110],[-8.7,116],[-12.6,120],[-7.1,124],[-9.5,129],[-7.8,135],[-10.6,140],[-7,146],[-8.4,151],[-6.8,157],[-9.1,162],[-7.3,168],[-11,172],[-6.7,178],[-8.2,183],[-6.9,189],[-9.6,194],[-7.5,198],[-6.6,110],[-6.5,140],[-6.4,165],[-6.2,190],[-7,64],[-6.8,80],[-14,15],[-13,35],
[8,10],[9.6,15],[11.2,8],[8.6,21],[12,22],[9.4,27],[7.6,34],[10.6,36],[7.2,42],[8.8,48],[11.6,52],[6.9,58],[8.2,63],[10,68],[6.8,74],[9,79],[7.4,85],[11.4,90],[6.6,96],[8.4,101],[10.2,106],[6.5,112],[7.8,118],[9.6,123],[6.3,129],[8.8,134],[6.6,140],[10.8,145],[6.2,151],[7.6,156],[9.2,161],[6.1,167],[8,172],[6.4,178],[9.8,183],[6.2,189],[7.4,194],[6,199],[5.8,120],[5.9,160],[5.7,185],[6.2,70],[6.4,88],[13.5,12],[13,40],[12.4,75],
[-6.5,12],[-7.2,20],[-6,27],[-6.8,38],[-5.9,46],[-6.4,54],[-7.3,60],[-6.1,68],[-6.7,76],[-5.8,86],[-6.5,92],[-7.4,104],[-6,116],[-6.9,122],[-5.7,132],[-6.2,148],[-7.1,152],[-5.9,170],[-6.6,176],[-5.8,194],
[5.2,14],[6.4,18],[5.8,26],[6.9,30],[5.6,40],[6.2,46],[7.1,54],[5.5,62],[6.6,66],[5.3,78],[6.1,84],[7.2,92],[5.4,100],[6.3,108],[5.2,126],[6.8,130],[5.5,142],[6.4,148],[5.3,170],[6.7,174],[5.4,196],
[-8.5,5],[9.2,4],[-9.8,3],[7.5,6],[-10.5,11],[10.8,18],[-8,55],[8.3,40],[-8.8,100],[7.7,110]];
const apogeeOut = [[-22.7,149.5],[-26.9,138],[-29.2,154],[-23.9,114],[-22.1,109],[-19.2,99],[-23.3,92],[-18.6,84],[-23,77],[-23.3,70],[-26.3,12],[-22.7,32],[-23.5,29],[-16.8,29],[-15.6,69.5],[-13.3,93],[-12.7,132],[-13.3,156],[-15.6,123],[-10.3,141],[-9.7,170],
[20.5,186.5],[21.6,172.5],[17.5,158.7],[25.8,145],[14,164],[12.2,160],[16.3,126],[18.1,115.5],[25.2,114.5],[20.5,106],[21,90],[20.1,69.5],[18.7,47],[20.5,31.5],[17.5,22.6],[14,17],[28.6,121],[12.8,93],[10.4,70],[14,54.5],[-29.8,57.7],[-29.6,197],[-17.5,45],[-20,20],[-14.5,100],[15.5,135],[-11.8,185],[11.5,195],[-18,175],[-21.4,46]];
const apogeeLeft = [[-8.6,8],[-7.4,12],[-6.4,18],[-5.5,30],[-5.1,50],[-4.95,100],[-4.85,200]];
const apogeeRight = [[8.6,8],[7.3,12],[6.5,18],[5.4,30],[5.0,50],[4.8,100],[4.7,200]];

const gaiaCoreRows = [[6,[-11,-8.8,-6.3,-4.1,-1.9,0.5,2.7,5.2,7.3,9.4]],[12,[-11.8,-9.4,-7.3,-4.8,-2.7,-0.3,2.1,4.2,6.7,8.8,10]],[18,[-11.4,-9.2,-6.7,-4.5,-2.1,0.1,2.5,4.6,7.1,9.2,10]],
[24,[-10.8,-8.4,-6.3,-3.8,-1.7,0.8,2.9,5.4,7.5,9.5]],[30,[-10.4,-8.2,-5.7,-3.6,-1.1,1,3.5,5.6,8.1,9.3]],[36,[-10,-7.6,-5.5,-3,-0.9,1.6,3.7,6.2,8.3,9]],
[42,[-9.8,-7.6,-5.1,-3,-0.5,1.6,4.1,6.2,8.6]],[48,[-9.4,-7,-4.9,-2.4,-0.3,2.2,4.3,6.8,8.7]],[54,[-9.6,-7.4,-4.9,-2.8,-0.3,1.8,4.3,6.4,8.5]],
[60,[-9.2,-7,-4.4,-2.5,0.2,2.1,4.8,6.6,8.6]],[66,[-9.4,-7.2,-4.7,-2.6,-0.1,2,4.5,6.6,8.4]],[72,[-9.1,-6.7,-4.6,-2.1,0,2.5,4.6,7.1,8.5]],
[78,[-9.3,-7.1,-4.6,-2.5,0,2.1,4.6,6.7,8.3]],[84,[-9,-6.6,-4.5,-2,0.1,2.6,4.7,7.2,8.4]],[90,[-9.2,-7,-4.5,-2.4,0.1,2.2,4.7,6.8,8.2]],
[96,[-8.9,-6.5,-4.4,-1.9,0.2,2.7,4.8,7.3,8.3]],[102,[-9,-6.8,-4.3,-2.2,0.3,2.4,4.9,7,8.2]],[108,[-8.7,-6.3,-4.2,-1.7,0.4,2.9,5,7.5,8.1]],
[114,[-8.9,-6.7,-4.2,-2.1,0.4,2.5,5,7.1,8.2]],[120,[-8.6,-6.2,-4.1,-1.6,0.5,3,5.1,7.6,8]],[126,[-8.8,-6.6,-4.1,-2,0.5,2.6,5.1,7.2,8.1]],
[132,[-8.5,-6.1,-4,-1.5,0.6,3.1,5.2,7.6,7.9]],[138,[-8.6,-6.4,-3.9,-1.8,0.7,2.8,5.3,7.4,8]],[144,[-8.3,-5.9,-3.8,-1.3,0.8,3.3,5.4,7.7]],
[150,[-8.2,-6,-3.5,-1.4,1.1,3.2,5.7,7.6]],[156,[-8.4,-6,-3.9,-1.4,0.7,3.2,5.3,7.5]],[162,[-8,-5.8,-3.3,-1.2,1.3,3.4,5.9,7.4]],
[168,[-8.1,-5.7,-3.6,-1.1,1,3.5,5.6,7.5]],[174,[-7.9,-5.7,-3.2,-1.1,1.4,3.5,6,7.3]],[180,[-8,-5.6,-3.5,-1,1.1,3.6,5.7,7.4]],
[186,[-7.8,-5.6,-3.1,-1,1.5,3.6,6.1,7.3]],[192,[-7.9,-5.5,-3.4,-0.9,1.2,3.7,5.8,7.2]],[197,[-7.8,-5.6,-3.1,-1,1.5,3.6,6.1,7.3]]];
const gaiaMid = [[-14.5,8],[-15.8,12],[-13.9,15],[-15,20],[-13.2,23],[-14.6,27],[-12.8,32],[-15.5,35],[-13.6,40],[-12.4,44],[-14.2,48],[-11.8,52],[-13,57],[-15.2,60],[-12.2,64],[-11.5,69],[-13.8,72],[-12.6,77],[-14.8,81],[-11.6,85],[-13.2,89],[-12,94],[-15.6,98],[-11.3,102],[-12.8,106],[-14,111],[-11.6,115],[-13.4,119],[-11.1,124],[-12.5,128],[-14.6,132],[-11.4,137],[-12.9,141],[-10.8,145],[-13.7,149],[-11.7,154],[-10.5,158],[-12.4,163],[-14.2,167],[-11,171],[-12.1,176],[-10.4,180],[-13.3,184],[-11.5,189],[-10.2,193],[-12.6,197],
[-10.9,10],[-11.5,28],[-10.6,38],[-10.2,58],[-10.8,80],[-10.1,97],[-9.8,120],[-9.6,150],[-9.2,175],[-9.4,195],[-16.5,45],[-17,92],[-16.2,130],[-15.8,170],
[13.5,7],[14.8,11],[12.8,16],[15.6,19],[12.4,24],[14,29],[11.8,33],[15.2,37],[13,42],[11.4,46],[14.4,50],[12,55],[16,59],[11.2,63],[13.4,68],[11,72],[14.6,76],[12.3,81],[10.8,85],[13.8,90],[11.6,94],[15.4,99],[10.6,103],[12.8,108],[11.2,112],[14.2,117],[10.4,121],[12.4,126],[15,130],[10.9,135],[13.2,139],[10.2,144],[12,148],[14.4,153],[10.6,157],[11.8,162],[13.6,166],[10,171],[12.2,175],[10.8,180],[14,184],[10.3,189],[11.6,193],[13,197],
[10.5,14],[11,30],[10.2,50],[9.8,70],[9.9,92],[9.5,115],[9.4,140],[9.3,165],[9,190],[16.6,83],[17,140],[16.4,25],[15.8,188],
[-13,10],[-14.8,17],[-12.2,20],[-16.5,14],[-12.6,29],[-14.1,34],[-11.9,39],[-13.5,45],[-11.5,50],[-14.5,55],[-12.5,60],[-11.1,67],[-13.1,75],[-11.8,79],[-10.9,88],[-14.1,93],[-12.3,98],[-10.7,110],[-12.9,114],[-10.9,118],[-11.9,132],[-10.2,135],[-13.1,145],[-11.2,150],[-10.1,163],[-12.9,172],[-11.3,182],[-10.6,186],[-12,192],[-9.8,198],
[12,9],[13.8,14],[11.6,20],[12.9,26],[15,31],[11.2,39],[13.6,44],[12.3,49],[10.9,58],[14.4,63],[12.2,70],[10.6,78],[13.1,84],[11.4,98],[12.6,102],[10.4,110],[13.4,114],[11.7,118],[10.2,130],[12.6,133],[11.1,140],[13.4,146],[10.3,152],[12.8,158],[10.1,164],[11.6,168],[12.9,178],[10.3,184],[11.8,188],[9.7,196]];
const gaiaOut = [[-26.3,177.6],[-25.7,156],[-21.5,151],[-19.2,161],[-23.3,143],[-19.8,133],[-25.7,123.5],[-19.2,122],[-23.9,105.5],[-16.8,107],[-20.4,95.6],[-15.6,89],[-18.6,79],[-14.4,69.5],[-23.3,59.6],[-16.8,51.4],[-25.7,40],[-21.5,30],[-16.2,23.6],[-19.2,17],[-27.5,12],[-12.1,8.8],[-18,190],[-22,112],[-17.5,140],[-20.5,70],[-24,25],
[13.4,186],[21,181],[16.3,158],[22.8,151],[17.5,138],[24.6,125],[14,115],[19.9,105],[16.3,87.5],[21.6,76],[15.1,66],[19.9,56],[24.6,43],[15.7,36.7],[21,28.5],[14,17],[28.2,17],[18.5,170],[20,120],[18,95],[23,62]];
const gaiaGray = [[-27.8,138],[-28.2,130],[-28,108],[28.4,163],[29,134],[28.8,119],[29.2,95],[28.6,90]];
const gaiaLeft = [[-9.2,8],[-7.4,12],[-5.4,22],[-4.0,35],[-3.3,58],[-3.1,100],[-2.97,200]];
const gaiaRight = [[9.3,8],[7.6,12],[5.4,22],[4.0,35],[3.4,58],[3.25,100],[3.2,200]];

// tick label values
const snrLabelsGiant = [0,50,100,150];
const snrLabelsDwarf = [0,50,100,150,200];
const teffLabels = [-200,-100,0,100,200];
const loggLabels = [-0.5,0,0.5];
const fehLabels = [-0.2,-0.1,0,0.1,0.2];
const rvLabels = [-20,0,20];
const apogeeSnrLabels = [0,25,50,75,100,125,150,175,200];
const gaiaSnrLabels = [0,25,50,75,100,125,150,175];

// ---------------- BUILD ----------------
function range(a,b,s){const r=[];for(let v=a; v<=b+1e-9; v+=s) r.push(+v.toFixed(4)); return r;}
const T = {
  snr:{major:[0,50,100,150,200], minor:range(0,200,10)},
  teff:{major:[-200,-100,0,100,200], minor:range(-240,240,20)},
  logg:{major:[-0.5,0,0.5], minor:range(-0.7,0.7,0.1)},
  feh:{major:[-0.2,-0.1,0,0.1,0.2], minor:range(-0.24,0.24,0.02)},
  rv:{major:[-20,0,20], minor:range(-30,30,5)},
  snrR:{major:range(0,200,25), minor:range(0,200,5)}
};
const minus = s => s.replace('-', '\u2212');
const fInt = v => minus(String(Math.round(v)));
const f1 = v => minus((Math.abs(v)<1e-9?0:v).toFixed(1));
const FONT = 'DejaVu Sans';
const rich = {
  a:{fontSize:11, fontFamily:FONT, color:'#111', lineHeight:14},
  i:{fontSize:11, fontFamily:FONT, fontStyle:'italic', color:'#111', lineHeight:14},
  s:{fontSize:8, fontFamily:FONT, color:'#111', lineHeight:8, verticalAlign:'bottom'},
  si:{fontSize:8, fontFamily:FONT, fontStyle:'italic', color:'#111', lineHeight:8, verticalAlign:'bottom'},
  sup:{fontSize:8, fontFamily:FONT, color:'#111', lineHeight:8, verticalAlign:'top'}
};
const grids=[], xAxes=[], yAxes=[], series=[];
function axis(g, pos, r, ticks, major, lab, name) {
  const o = {
    gridIndex:g, type:'value', position:pos, min:r[0], max:r[1], silent:true, z:5,
    axisLine:{show:major, onZero:false, lineStyle:{color:'#000', width:1.3}},
    axisTick:{show:true, inside:true, length:major?7:4, customValues:ticks, lineStyle:{color:'#000', width:1.1}},
    axisLabel: lab ? {show:true, customValues:lab.vals, formatter:lab.fmt, color:'#1a1a1a', fontSize:10.5, fontFamily:FONT, margin:lab.margin} : {show:false},
    splitLine:{show:false}, minorTick:{show:false}, splitArea:{show:false}
  };
  if (name) { o.name = name.text; o.nameLocation='middle'; o.nameGap=name.gap; o.nameTextStyle={rich:rich}; }
  return o;
}
function panel(box, xr, yr, xt, yt, xlab, ylab, xname, yname) {
  const g = grids.length;
  grids.push({left:box[0], top:box[1], width:box[2], height:box[3]});
  const xi = xAxes.length, yi = yAxes.length;
  xAxes.push(axis(g,'bottom',xr,xt.major,true,xlab,xname), axis(g,'bottom',xr,xt.minor,false),
             axis(g,'top',xr,xt.major,true), axis(g,'top',xr,xt.minor,false));
  yAxes.push(axis(g,'left',yr,yt.major,true,ylab,yname), axis(g,'left',yr,yt.minor,false),
             axis(g,'right',yr,yt.major,true), axis(g,'right',yr,yt.minor,false));
  return {xi, yi};
}
const CY = '#00bfbf';
function scatter(ax, data, size, color) {
  series.push({type:'scatter', xAxisIndex:ax.xi, yAxisIndex:ax.yi, data:data, symbolSize:size||3.6,
    itemStyle:{color:color||CY, opacity:1}, silent:true, z:2, clip:true});
}
function dline(ax, data, color) {
  series.push({type:'line', xAxisIndex:ax.xi, yAxisIndex:ax.yi, data:data, symbol:'none', smooth:0.35,
    lineStyle:{color:color, width:1.6, type:[5,2.6]}, silent:true, z:3});
}
const RED = '#ff0000', GRAY = '#8a8a8a';
const C1 = 82, C2 = 321, CW1 = 239, CW2 = 240;
const R = [23.5, 158.7, 293.8], RH = 135.2;
const sx = {vals:snrLabelsGiant, fmt:fInt, margin:3};
const sxD = {vals:snrLabelsDwarf, fmt:fInt, margin:3};
const snrName = {text:'{a|S/N}{si|g}', gap:14};

const pGT = panel([C1,R[0],CW1,RH],[0,200],[-250,250],T.snr,T.teff,null,{vals:teffLabels,fmt:fInt,margin:4.5},null,{text:'{a|\u0394}{i|T}{s|eff}{a| (K)}',gap:38});
const pDT = panel([C2,R[0],CW2,RH],[0,200],[-250,250],T.snr,T.teff);
const pGL = panel([C1,R[1],CW1,RH],[0,200],[-0.7,0.7],T.snr,T.logg,null,{vals:loggLabels,fmt:f1,margin:4.5},null,{text:'{a|\u0394log}{i|g}{a| (dex)}',gap:38});
const pDL = panel([C2,R[1],CW2,RH],[0,200],[-0.7,0.7],T.snr,T.logg);
const pGF = panel([C1,R[2],CW1,RH],[0,200],[-0.242,0.242],T.snr,T.feh,sx,{vals:fehLabels,fmt:f1,margin:4.5},snrName,{text:'{a|\u0394[Fe/H] (dex)}',gap:38});
const pDF = panel([C2,R[2],CW2,RH],[0,200],[-0.242,0.242],T.snr,T.feh,sxD,null,snrName,null);
const pAP = panel([631,23.3,169,203.4],[-30,30],[0,200],T.rv,T.snrR,null,{vals:apogeeSnrLabels,fmt:fInt,margin:4.3},null,{text:'{a|S/N}{si|g}',gap:30});
const pGA = panel([631,226.7,169,202.3],[-30,30],[0,200],T.rv,T.snrR,{vals:rvLabels,fmt:fInt,margin:3},{vals:gaiaSnrLabels,fmt:fInt,margin:4.3},{text:'{a|\u0394RV (kms}{sup|\u22121}{a|)}',gap:14},{text:'{a|S/N}{si|g}',gap:30});

const rows2pts = rows => rows.flatMap(([y,xs]) => xs.map(x => [x,y]));
const cols2pts = cols => cols.flatMap(([x,ys]) => ys.map(y => [x,y]));
const hline = v => [[0,v],[200,v]];
const vline = v => [[v,0],[v,200]];

scatter(pGT, giantTeff.concat(cols2pts(giantTeffCore))); dline(pGT, hline(medians.giantTeff), GRAY); dline(pGT, giantTeffUp, RED); dline(pGT, giantTeffLo, RED);
scatter(pDT, dwarfTeff.concat(cols2pts(dwarfTeffCore))); dline(pDT, hline(medians.dwarfTeff), GRAY); dline(pDT, dwarfTeffUp, RED); dline(pDT, dwarfTeffLo, RED);
scatter(pGL, giantLogg.concat(cols2pts(giantLoggCore))); dline(pGL, hline(medians.giantLogg), GRAY); dline(pGL, giantLoggUp, RED); dline(pGL, giantLoggLo, RED);
scatter(pDL, dwarfLogg.concat(cols2pts(dwarfLoggCore))); dline(pDL, hline(medians.dwarfLogg), GRAY); dline(pDL, dwarfLoggUp, RED); dline(pDL, dwarfLoggLo, RED);
scatter(pGF, giantFeh.concat(cols2pts(giantFehCore))); dline(pGF, hline(medians.giantFeh), GRAY); dline(pGF, giantFehUp, RED); dline(pGF, giantFehLo, RED);
scatter(pDF, dwarfFeh.concat(cols2pts(dwarfFehCore))); dline(pDF, hline(medians.dwarfFeh), GRAY); dline(pDF, dwarfFehUp, RED); dline(pDF, dwarfFehLo, RED);

scatter(pAP, apogeeOut, 3.6); scatter(pAP, apogeeMid, 3.6); scatter(pAP, rows2pts(apogeeCoreRows), 6.8);
dline(pAP, vline(medians.apogee), GRAY); dline(pAP, apogeeLeft, RED); dline(pAP, apogeeRight, RED);
scatter(pGA, gaiaGray, 3.6, '#9a9a9a'); scatter(pGA, gaiaOut, 3.6); scatter(pGA, gaiaMid, 3.8); scatter(pGA, rows2pts(gaiaCoreRows), 9);
dline(pGA, vline(medians.gaia), GRAY); dline(pGA, gaiaLeft, RED); dline(pGA, gaiaRight, RED);

const txt = (x,y,t,size,align) => ({type:'text', x:x, y:y, z:10, silent:true,
  style:{text:t, font:size+'px "'+FONT+'"', fill:'#000', align:align||'center', verticalAlign:'middle'}});

const chart = echarts.init(document.getElementById('c'), null, {renderer:'canvas'});
chart.setOption({
  animation:false, backgroundColor:'#fff',
  grid:grids, xAxis:xAxes, yAxis:yAxes, series:series,
  graphic:[txt(201.5,12.5,'Giant',18), txt(441,12.5,'Dwarf',18), txt(715.5,12.5,'All',18),
           txt(646.5,39.5,'APOGEE',15,'left'), txt(646.5,242,'GAIA',15,'left')]
});
</script></body></html>
